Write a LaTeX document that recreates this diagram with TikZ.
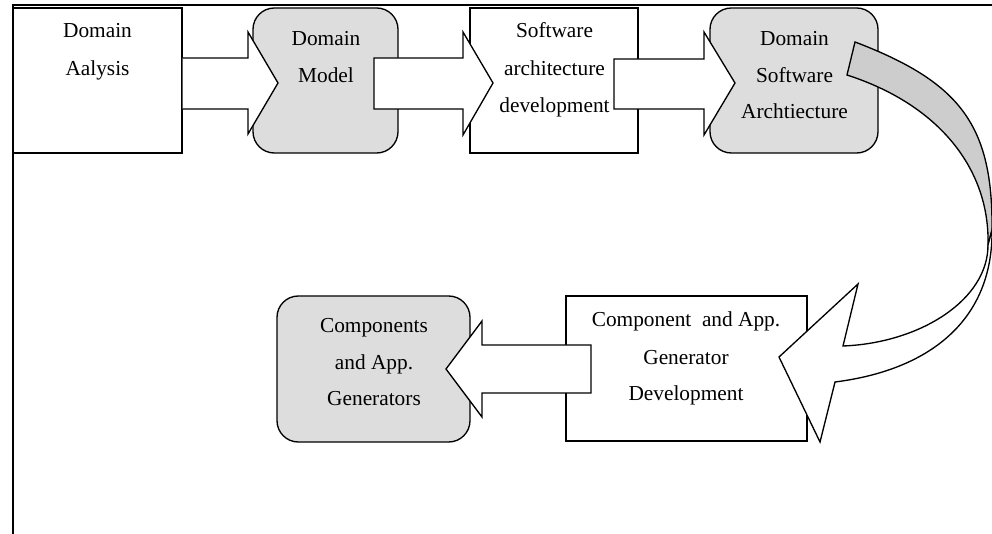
\documentclass[tikz,border=0pt]{standalone}
\usepackage{fontspec}
\setmainfont{Liberation Serif}
\usetikzlibrary{fit}
\definecolor{boxgray}{RGB}{221,221,221}
\definecolor{ribbongray}{RGB}{205,205,205}
\begin{document}
\begin{tikzpicture}[x=0.75pt,y=-0.75pt,
  plainbox/.style={draw=black, line width=1pt, fill=white, inner sep=0pt},
  roundbox/.style={draw=black, line width=1pt, fill=boxgray, rounded corners=16pt, inner sep=0pt},
  fatarrow/.style={draw=black, line width=1pt, fill=white, line join=miter},
  ribbon/.style={draw=black, line width=1pt, line join=miter},
  lbl/.style={font=\fontsize{16}{20}\selectfont, inner sep=0pt, anchor=base},
]
\useasboundingbox (0,0) rectangle (992,534);
\fill[white] (0,0) rectangle (992,534);
% frame
\coordinate (fbl) at (13,534);
\coordinate (ftl) at (13,5);
\coordinate (ftr) at (992,5);
\draw[line width=1.5pt] (fbl) -- (ftl) -- (ftr);
% boxes
\node[plainbox, fit={(13,8) (182,153)}] (b1) {};
\node[roundbox, fit={(253,8) (398,153)}] (b2) {};
\node[plainbox, fit={(470,8) (638,153)}] (b3) {};
\node[roundbox, fit={(710,8) (878,153)}] (b4) {};
\node[roundbox, fit={(277,296) (470,442)}] (b6) {};
\node[plainbox, fit={(566,296) (807,441)}] (b5) {};
% block arrows
\draw[fatarrow] (b1.east |- 0,58) -- (248,58) -- (248,32) -- (278,83) -- (248,134) -- (248,109) -- (b1.east |- 0,109);
\draw[fatarrow] (374,58) -- (463,58) -- (463,32) -- (493,83) -- (463,135) -- (463,109) -- (374,109) -- cycle;
\draw[fatarrow] (614,59) -- (704,59) -- (704,32) -- (735,83) -- (704,135) -- (704,109) -- (614,109) -- cycle;
\draw[fatarrow] (591,345) -- (482,345) -- (482,321) -- (446,369) -- (482,417) -- (482,393) -- (591,393) -- cycle;
% curved arrow
\draw[ribbon, fill=ribbongray] (855,42) .. controls (960,82) and (993,125) .. (992,230) -- (988,245) .. controls (990,170) and (940,105) .. (847,75) -- cycle;
\draw[ribbon, fill=white] (988,245) .. controls (988,300) and (920,343) .. (843,346) -- (858,284) -- (779,357) -- (820,442) -- (835,382) .. controls (930,370) and (993,320) .. (992,230) -- cycle;
% labels
\node[lbl] (t1a) at (97.5,38) {Domain};
\node[lbl] (t1b) at (97.5,76) {Aalysis};
\node[lbl] (t2a) at (326,46) {Domain};
\node[lbl] (t2b) at (326,83) {Model};
\node[lbl] (t3a) at (554.5,38) {Software};
\node[lbl] (t3b) at (554.5,76) {architecture};
\node[lbl] (t3c) at (554.5,113) {development};
\node[lbl] (t4a) at (794.5,46) {Domain};
\node[lbl] (t4b) at (794.5,82.5) {Software};
\node[lbl] (t4c) at (794.5,119) {Archtiecture};
\node[lbl] (t6a) at (374,333) {Components};
\node[lbl] (t6b) at (374,369.5) {and App.};
\node[lbl] (t6c) at (374,406) {Generators};
\node[lbl] (t5a) at (686,327) {Component\ \ and App.};
\node[lbl] (t5b) at (686,364) {Generator};
\node[lbl] (t5c) at (686,401) {Development};
\end{tikzpicture}
\end{document}
